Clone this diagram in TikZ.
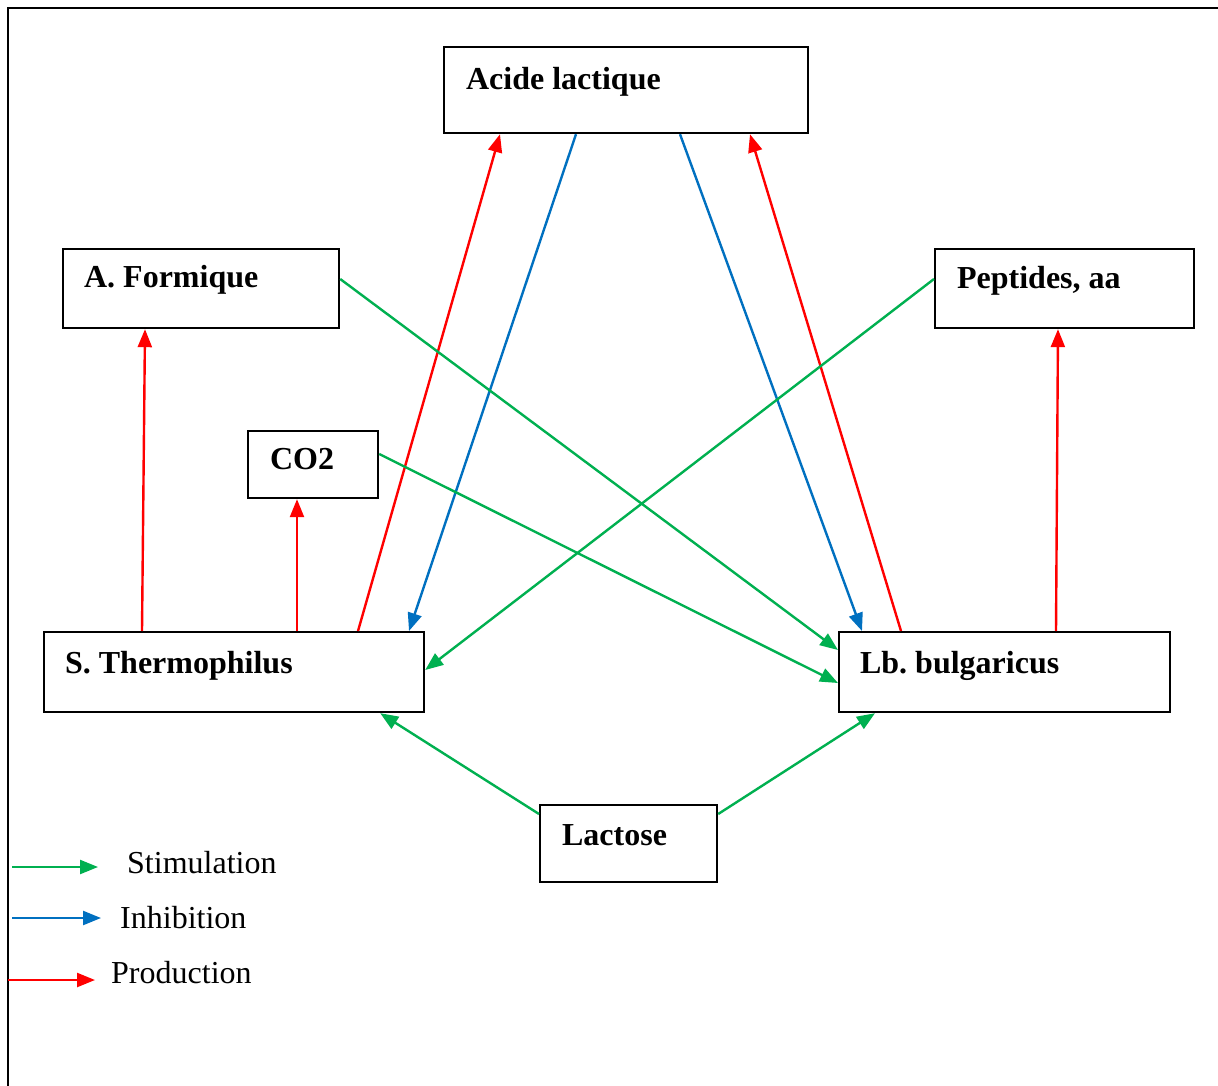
\documentclass[tikz,border=0pt]{standalone}
\usepackage{fontspec}
\setmainfont{Liberation Serif}
\usetikzlibrary{arrows.meta}
\definecolor{stimgreen}{RGB}{0,176,80}
\definecolor{inhblue}{RGB}{0,112,192}
\definecolor{prodred}{RGB}{255,0,0}
\newcommand{\diagfont}{\fontsize{32}{38}\selectfont\frenchspacing}
% left-aligned box label of a given width
\newcommand{\boxlabel}[2]{\makebox[#1][l]{#2}}
\begin{document}
\begin{tikzpicture}[x=1pt,y=-1pt,
  box/.style={draw, line width=2.2pt, anchor=north west, inner ysep=0pt,
    font=\diagfont\bfseries},
  conn/.style={line width=2.4pt, -{Triangle[length=18pt,width=14pt]}},
  stim/.style={conn, stimgreen},
  inhib/.style={conn, inhblue},
  prod/.style={conn, prodred},
  legtext/.style={anchor=base west, inner sep=0pt, font=\diagfont}]
\useasboundingbox (0,0) rectangle (1218,1086);
\fill[white] (0,0) rectangle (1218,1086);
% outer frame
\draw[line width=2.8pt] (8,1086) -- (8,8) -- (1218,8);

% boxes
\node[box, inner xsep=22pt, text height=42pt, text depth=44pt] (acide) at (443,46) {\boxlabel{320pt}{Acide lactique}};
\node[box, inner xsep=21pt, text height=38pt, text depth=41pt] (formique) at (62,248) {\boxlabel{234pt}{A. Formique}};
\node[box, inner xsep=22pt, text height=39pt, text depth=40pt] (peptides) at (934,248) {\boxlabel{215pt}{Peptides, aa}};
\node[box, inner xsep=22pt, text height=38pt, text depth=29pt] (co2) at (247,430) {\boxlabel{86pt}{CO2}};
\node[box, inner xsep=21pt, text height=41pt, text depth=39pt] (thermo) at (43,631) {\boxlabel{338pt}{S. Thermophilus}};
\node[box, inner xsep=21pt, text height=41pt, text depth=39pt] (lb) at (838,631) {\boxlabel{289pt}{Lb. bulgaricus}};
\node[box, inner xsep=22pt, text height=40pt, text depth=37pt] (lactose) at (539,804) {\boxlabel{133pt}{Lactose}};

% production
\draw[prod] ([xshift=315pt]thermo.north west) -- ([xshift=57pt]acide.south west);
\draw[prod] ([xshift=63pt]lb.north west) -- ([xshift=307pt]acide.south west);
\draw[prod] ([xshift=99pt]thermo.north west) -- ([xshift=83pt]formique.south west);
\draw[prod] ([xshift=254pt]thermo.north west) -- ([xshift=50pt]co2.south west);
\draw[prod] ([xshift=218pt]lb.north west) -- ([xshift=124pt]peptides.south west);

% inhibition
\draw[inhib] ([xshift=133pt]acide.south west) -- ([xshift=366pt]thermo.north west);
\draw[inhib] ([xshift=237pt]acide.south west) -- ([xshift=24pt]lb.north west);

% stimulation
\draw[stim] ([yshift=-31pt]formique.north east) -- ([yshift=-19pt]lb.north west);
\draw[stim] ([yshift=-31pt]peptides.north west) -- ([yshift=-39pt]thermo.north east);
\draw[stim] ([yshift=-24pt]co2.north east) -- ([yshift=-52pt]lb.north west);
\draw[stim] ([yshift=-10pt]lactose.north west) -- ([xshift=-45pt]thermo.south east);
\draw[stim] ([yshift=-10pt]lactose.north east) -- ([xshift=37pt]lb.south west);

% legend
\coordinate (gA) at (12,867);  \coordinate (gB) at (98,867);
\coordinate (bA) at (12,918);  \coordinate (bB) at (101,918);
\coordinate (rA) at (8,980);   \coordinate (rB) at (95,980);
\draw[stim] (gA) -- (gB);
\draw[inhib] (bA) -- (bB);
\draw[prod] (rA) -- (rB);
\node[legtext] (lstim) at (127,873) {Stimulation};
\node[legtext] (linhib) at (120,928) {Inhibition};
\node[legtext] (lprod) at (111,983) {Production};
\end{tikzpicture}
\end{document}
